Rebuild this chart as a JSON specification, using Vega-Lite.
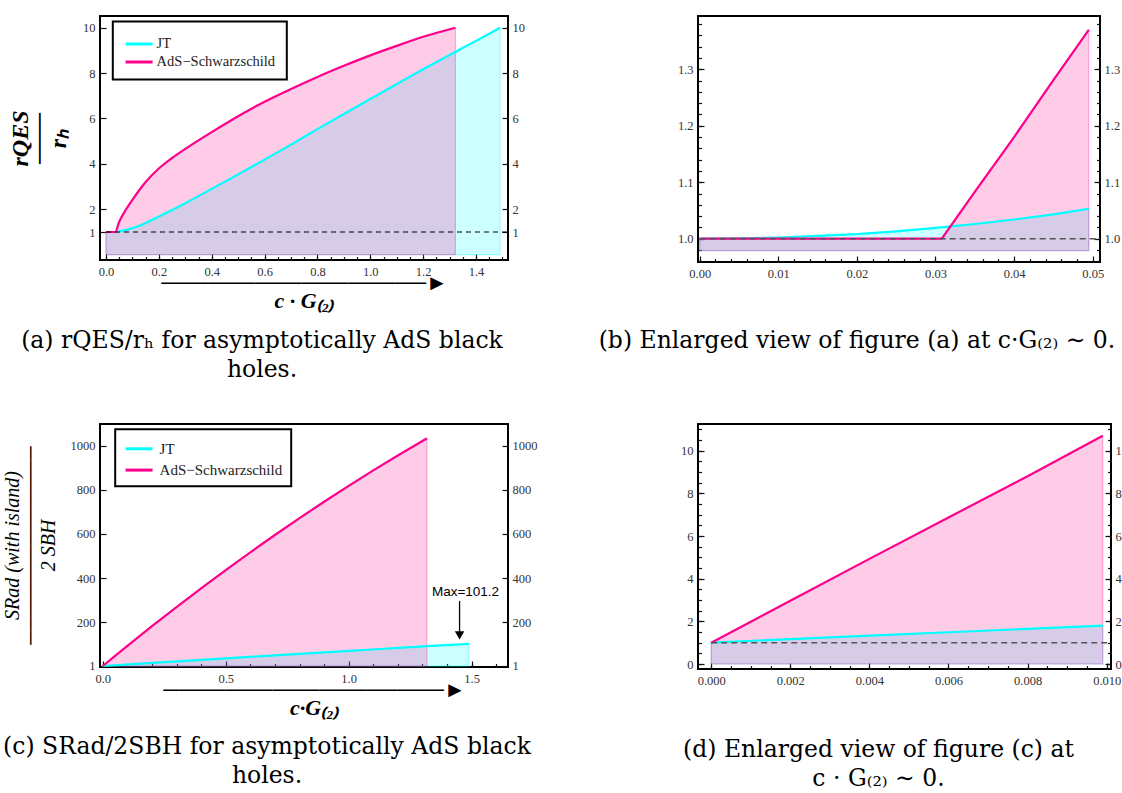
{
  "$schema": "https://vega.github.io/schema/vega-lite/v6.json",
  "background": "white",
  "padding": {"left": 1, "top": 15, "right": -6, "bottom": 0},
  "bounds": "flush",
  "columns": 2,
  "spacing": {"row": 162, "column": 190},
  "resolve": {"scale": {"color": "independent"}, "legend": {"color": "independent"}},
  "config": {
    "view": {"stroke": "black", "strokeWidth": 2},
    "axis": {"grid": false, "domain": false, "labelFont": "Liberation Serif", "labelFontSize": 12.5, "labelColor": "#333", "tickColor": "#111", "tickWidth": 1.2, "tickSize": -6, "labelPadding": 11, "zindex": 1, "labelFlush": false, "labelOverlap": false},
    "legend": {"strokeWidth": 2},
    "title": {"font": "DejaVu Serif", "fontSize": 23.5, "fontWeight": "normal", "color": "black", "lineHeight": 29, "orient": "bottom", "frame": "group", "anchor": "middle"}
  },
  "datasets": {
    "a": [
      {"s": "JT", "x": 0, "y": 1}, {"s": "JT", "x": 0.035, "y": 1.0}, {"s": "JT", "x": 0.05, "y": 1.03}, {"s": "JT", "x": 0.1, "y": 1.17}, {"s": "JT", "x": 0.15, "y": 1.4}, {"s": "JT", "x": 0.2, "y": 1.68}, {"s": "JT", "x": 0.3, "y": 2.27}, {"s": "JT", "x": 0.4, "y": 2.9}, {"s": "JT", "x": 0.5, "y": 3.54}, {"s": "JT", "x": 0.6, "y": 4.19}, {"s": "JT", "x": 0.7, "y": 4.85}, {"s": "JT", "x": 0.8, "y": 5.53}, {"s": "JT", "x": 0.9, "y": 6.2}, {"s": "JT", "x": 1.0, "y": 6.86}, {"s": "JT", "x": 1.1, "y": 7.52}, {"s": "JT", "x": 1.2, "y": 8.17}, {"s": "JT", "x": 1.3, "y": 8.8}, {"s": "JT", "x": 1.4, "y": 9.42}, {"s": "JT", "x": 1.491, "y": 10.0},
      {"s": "AdS−Schwarzschild", "x": 0, "y": 1}, {"s": "AdS−Schwarzschild", "x": 0.035, "y": 1.0}, {"s": "AdS−Schwarzschild", "x": 0.05, "y": 1.45}, {"s": "AdS−Schwarzschild", "x": 0.075, "y": 1.98}, {"s": "AdS−Schwarzschild", "x": 0.1, "y": 2.42}, {"s": "AdS−Schwarzschild", "x": 0.15, "y": 3.2}, {"s": "AdS−Schwarzschild", "x": 0.2, "y": 3.8}, {"s": "AdS−Schwarzschild", "x": 0.25, "y": 4.26}, {"s": "AdS−Schwarzschild", "x": 0.3, "y": 4.66}, {"s": "AdS−Schwarzschild", "x": 0.4, "y": 5.4}, {"s": "AdS−Schwarzschild", "x": 0.5, "y": 6.1}, {"s": "AdS−Schwarzschild", "x": 0.6, "y": 6.74}, {"s": "AdS−Schwarzschild", "x": 0.7, "y": 7.3}, {"s": "AdS−Schwarzschild", "x": 0.8, "y": 7.83}, {"s": "AdS−Schwarzschild", "x": 0.9, "y": 8.32}, {"s": "AdS−Schwarzschild", "x": 1.0, "y": 8.78}, {"s": "AdS−Schwarzschild", "x": 1.1, "y": 9.2}, {"s": "AdS−Schwarzschild", "x": 1.2, "y": 9.6}, {"s": "AdS−Schwarzschild", "x": 1.322, "y": 10.0}
    ],
    "b": [
      {"s": "JT", "x": 0, "y": 1.0}, {"s": "JT", "x": 0.005, "y": 1.0005}, {"s": "JT", "x": 0.01, "y": 1.002}, {"s": "JT", "x": 0.015, "y": 1.005}, {"s": "JT", "x": 0.02, "y": 1.008}, {"s": "JT", "x": 0.025, "y": 1.013}, {"s": "JT", "x": 0.03, "y": 1.019}, {"s": "JT", "x": 0.035, "y": 1.026}, {"s": "JT", "x": 0.04, "y": 1.034}, {"s": "JT", "x": 0.045, "y": 1.043}, {"s": "JT", "x": 0.0495, "y": 1.053},
      {"s": "AdS−Schwarzschild", "x": 0, "y": 1.0}, {"s": "AdS−Schwarzschild", "x": 0.01, "y": 1.0}, {"s": "AdS−Schwarzschild", "x": 0.02, "y": 1.0}, {"s": "AdS−Schwarzschild", "x": 0.0308, "y": 1.0}, {"s": "AdS−Schwarzschild", "x": 0.035, "y": 1.083}, {"s": "AdS−Schwarzschild", "x": 0.04, "y": 1.18}, {"s": "AdS−Schwarzschild", "x": 0.045, "y": 1.281}, {"s": "AdS−Schwarzschild", "x": 0.0495, "y": 1.37}
    ],
    "c": [
      {"s": "JT", "x": 0, "y": 1}, {"s": "JT", "x": 0.25, "y": 18.4}, {"s": "JT", "x": 0.5, "y": 35.6}, {"s": "JT", "x": 0.75, "y": 52.7}, {"s": "JT", "x": 1.0, "y": 69.5}, {"s": "JT", "x": 1.25, "y": 86.2}, {"s": "JT", "x": 1.318, "y": 90.7}, {"s": "JT", "x": 1.489, "y": 101.2},
      {"s": "AdS−Schwarzschild", "x": 0, "y": 1}, {"s": "AdS−Schwarzschild", "x": 0.05, "y": 46.9}, {"s": "AdS−Schwarzschild", "x": 0.1, "y": 92.2}, {"s": "AdS−Schwarzschild", "x": 0.2, "y": 181.4}, {"s": "AdS−Schwarzschild", "x": 0.3, "y": 268.4}, {"s": "AdS−Schwarzschild", "x": 0.4, "y": 353.3}, {"s": "AdS−Schwarzschild", "x": 0.5, "y": 436}, {"s": "AdS−Schwarzschild", "x": 0.6, "y": 516.6}, {"s": "AdS−Schwarzschild", "x": 0.7, "y": 595.1}, {"s": "AdS−Schwarzschild", "x": 0.8, "y": 671.5}, {"s": "AdS−Schwarzschild", "x": 0.9, "y": 745.7}, {"s": "AdS−Schwarzschild", "x": 1.0, "y": 817.8}, {"s": "AdS−Schwarzschild", "x": 1.1, "y": 887.8}, {"s": "AdS−Schwarzschild", "x": 1.2, "y": 955.6}, {"s": "AdS−Schwarzschild", "x": 1.318, "y": 1033}
    ],
    "d": [
      {"s": "JT", "x": 0, "y": 1}, {"s": "JT", "x": 0.002, "y": 1.17}, {"s": "JT", "x": 0.004, "y": 1.33}, {"s": "JT", "x": 0.006, "y": 1.49}, {"s": "JT", "x": 0.008, "y": 1.65}, {"s": "JT", "x": 0.0099, "y": 1.8},
      {"s": "AdS−Schwarzschild", "x": 0, "y": 1}, {"s": "AdS−Schwarzschild", "x": 0.002, "y": 2.97}, {"s": "AdS−Schwarzschild", "x": 0.004, "y": 4.93}, {"s": "AdS−Schwarzschild", "x": 0.006, "y": 6.87}, {"s": "AdS−Schwarzschild", "x": 0.008, "y": 8.8}, {"s": "AdS−Schwarzschild", "x": 0.0099, "y": 10.7}
    ],
    "note": [{"label": "Max=101.2"}]
  },
  "concat": [
    {
      "width": 408, "height": 244,
      "title": {"text": ["(a) rQES/rₕ for asymptotically AdS black", "holes."], "dx": -42, "offset": 18},
      "resolve": {"axis": {"x": "independent", "y": "independent"}},
      "layer": [
        {
          "data": {"name": "a"}, "transform": [{"filter": "datum.s == 'JT'"}],
          "mark": {"type": "area", "interpolate": "monotone", "fill": "#00FFFF", "fillOpacity": 0.2, "stroke": "#00FFFF", "strokeOpacity": 0.35, "strokeWidth": 1.2},
          "encoding": {
            "x": {"field": "x", "type": "quantitative", "scale": {"domain": [-0.0227, 1.521], "nice": false, "zero": false},
              "axis": {"orient": "bottom", "values": [0, 0.2, 0.4, 0.6, 0.8, 1, 1.2, 1.4], "format": ".1f",
                "title": ["─────────────────►", "c · G₍₂₎"], "titleFont": "Liberation Serif", "titleFontSize": 22, "titleFontWeight": "bold", "titleFontStyle": "italic", "titleLineHeight": 18, "titleX": 204, "titleY": 12, "titleAlign": "center", "titleBaseline": "top", "titleColor": "black"}},
            "y": {"field": "y", "type": "quantitative", "scale": {"domain": [-0.233, 10.515], "nice": false, "zero": false},
              "axis": {"orient": "left", "values": [1, 2, 4, 6, 8, 10],
                "title": ["rQES", "───", "rₕ"], "titleFont": "Liberation Serif", "titleFontSize": 24, "titleFontWeight": "bold", "titleFontStyle": "italic", "titleLineHeight": 19, "titleX": -68, "titleY": 122, "titleAngle": 270, "titleAlign": "center", "titleBaseline": "bottom", "titleColor": "black"}},
            "y2": {"datum": 0}
          }
        },
        {
          "data": {"name": "a"}, "transform": [{"filter": "datum.s != 'JT'"}],
          "mark": {"type": "area", "interpolate": "monotone", "fill": "#FF008C", "fillOpacity": 0.2, "stroke": "#FF008C", "strokeOpacity": 0.3, "strokeWidth": 1.2},
          "encoding": {
            "x": {"field": "x", "type": "quantitative", "scale": {"domain": [-0.0227, 1.521], "nice": false, "zero": false},
              "axis": {"orient": "bottom", "values": [0, 0.05, 0.1, 0.15, 0.2, 0.25, 0.3, 0.35, 0.4, 0.45, 0.5, 0.55, 0.6, 0.65, 0.7, 0.75, 0.8, 0.85, 0.9, 0.95, 1, 1.05, 1.1, 1.15, 1.2, 1.25, 1.3, 1.35, 1.4, 1.45, 1.5], "labels": false, "tickSize": -3.5, "title": null}},
            "y": {"field": "y", "type": "quantitative", "scale": {"domain": [-0.233, 10.515], "nice": false, "zero": false}, "axis": null},
            "y2": {"datum": 0}
          }
        },
        {
          "data": {"name": "a"},
          "mark": {"type": "line", "interpolate": "monotone", "strokeWidth": 2.2},
          "encoding": {
            "x": {"field": "x", "type": "quantitative", "axis": null},
            "y": {"field": "y", "type": "quantitative", "axis": {"orient": "right", "values": [1, 2, 4, 6, 8, 10], "labelPadding": 10, "title": null}},
            "color": {"field": "s", "type": "nominal", "scale": {"domain": ["JT", "AdS−Schwarzschild"], "range": ["#00FFFF", "#FF008C"]},
              "legend": {"orient": "none", "legendX": 12.8, "legendY": 5.5, "title": null, "symbolType": "M-1.35,0H1.35", "symbolStrokeWidth": 3, "symbolSize": 400, "symbolOffset": 3.8, "labelFont": "Liberation Serif", "labelFontSize": 14.5, "labelColor": "#222", "labelOffset": 6, "strokeColor": "black", "fillColor": "white", "padding": 11, "rowPadding": 0}}
          }
        },
        {
          "data": {"values": [{}]},
          "mark": {"type": "rule", "strokeDash": [5, 4], "color": "black", "strokeWidth": 1.2},
          "encoding": {
            "x": {"datum": 0, "type": "quantitative", "axis": null},
            "x2": {"datum": 1.521},
            "y": {"datum": 1, "type": "quantitative", "axis": null}
          }
        }
      ]
    },
    {
      "width": 402, "height": 246,
      "title": {"text": "(b) Enlarged view of figure (a) at c·G₍₂₎ ∼ 0.", "dx": -42, "offset": 49},
      "resolve": {"axis": {"x": "independent", "y": "independent"}},
      "layer": [
        {
          "data": {"name": "b"}, "transform": [{"filter": "datum.s == 'JT'"}],
          "mark": {"type": "area", "fill": "#00FFFF", "fillOpacity": 0.2, "stroke": "#00FFFF", "strokeOpacity": 0.35, "strokeWidth": 1.2},
          "encoding": {
            "x": {"field": "x", "type": "quantitative", "scale": {"domain": [-0.000216, 0.05093], "nice": false, "zero": false},
              "axis": {"orient": "bottom", "values": [0, 0.01, 0.02, 0.03, 0.04, 0.05], "format": ".2f", "title": null}},
            "y": {"field": "y", "type": "quantitative", "scale": {"domain": [0.9587, 1.3944], "nice": false, "zero": false},
              "axis": {"orient": "left", "values": [1, 1.1, 1.2, 1.3], "format": ".1f", "title": null}},
            "y2": {"datum": 0.979}
          }
        },
        {
          "data": {"name": "b"}, "transform": [{"filter": "datum.s != 'JT'"}],
          "mark": {"type": "area", "fill": "#FF008C", "fillOpacity": 0.2, "stroke": "#FF008C", "strokeOpacity": 0.3, "strokeWidth": 1.2},
          "encoding": {
            "x": {"field": "x", "type": "quantitative", "scale": {"domain": [-0.000216, 0.05093], "nice": false, "zero": false},
              "axis": {"orient": "bottom", "values": [0, 0.002, 0.004, 0.006, 0.008, 0.01, 0.012, 0.014, 0.016, 0.018, 0.02, 0.022, 0.024, 0.026, 0.028, 0.03, 0.032, 0.034, 0.036, 0.038, 0.04, 0.042, 0.044, 0.046, 0.048, 0.05], "labels": false, "tickSize": -3.5, "title": null}},
            "y": {"field": "y", "type": "quantitative", "scale": {"domain": [0.9587, 1.3944], "nice": false, "zero": false},
              "axis": {"orient": "left", "values": [0.96, 0.98, 1, 1.02, 1.04, 1.06, 1.08, 1.1, 1.12, 1.14, 1.16, 1.18, 1.2, 1.22, 1.24, 1.26, 1.28, 1.3, 1.32, 1.34, 1.36, 1.38], "labels": false, "tickSize": -3.5, "title": null}},
            "y2": {"datum": 0.979}
          }
        },
        {
          "data": {"name": "b"},
          "mark": {"type": "line", "strokeWidth": 2.2},
          "encoding": {
            "x": {"field": "x", "type": "quantitative", "axis": null},
            "y": {"field": "y", "type": "quantitative", "axis": {"orient": "right", "values": [1, 1.1, 1.2, 1.3], "format": ".1f", "labelPadding": 10, "title": null}},
            "color": {"field": "s", "type": "nominal", "scale": {"domain": ["JT", "AdS−Schwarzschild"], "range": ["#00FFFF", "#FF008C"]}, "legend": null}
          }
        },
        {
          "data": {"values": [{}]},
          "mark": {"type": "rule", "strokeDash": [6, 4], "color": "#555", "strokeWidth": 1.5},
          "encoding": {
            "x": {"datum": 0, "type": "quantitative", "axis": null},
            "x2": {"datum": 0.05093},
            "y": {"datum": 1, "type": "quantitative",
              "axis": {"orient": "right", "values": [0.96, 0.98, 1, 1.02, 1.04, 1.06, 1.08, 1.1, 1.12, 1.14, 1.16, 1.18, 1.2, 1.22, 1.24, 1.26, 1.28, 1.3, 1.32, 1.34, 1.36, 1.38], "labels": false, "tickSize": -3.5, "title": null}}
          }
        }
      ]
    },
    {
      "width": 408, "height": 243,
      "title": {"text": ["(c) SRad/2SBH for asymptotically AdS black", "holes."], "dx": -37, "offset": 17},
      "resolve": {"axis": {"x": "independent", "y": "independent"}},
      "layer": [
        {
          "data": {"name": "c"}, "transform": [{"filter": "datum.s == 'JT'"}],
          "mark": {"type": "area", "interpolate": "monotone", "fill": "#00FFFF", "fillOpacity": 0.2, "stroke": "#00FFFF", "strokeOpacity": 0.35, "strokeWidth": 1.2},
          "encoding": {
            "x": {"field": "x", "type": "quantitative", "scale": {"domain": [-0.0114, 1.648], "nice": false, "zero": false},
              "axis": {"orient": "bottom", "values": [0, 0.5, 1, 1.5], "format": ".1f",
                "title": ["──────────────────►", "c·G₍₂₎"], "titleFont": "Liberation Serif", "titleFontSize": 22, "titleFontWeight": "bold", "titleFontStyle": "italic", "titleLineHeight": 18, "titleX": 214, "titleY": 12, "titleAlign": "center", "titleBaseline": "top", "titleColor": "black"}},
            "y": {"field": "y", "type": "quantitative", "scale": {"domain": [-3.6, 1098.4], "nice": false, "zero": false},
              "axis": {"orient": "left", "values": [1, 200, 400, 600, 800, 1000], "format": "d",
                "title": ["SRad (with island)", "──────────────", "2 SBH"], "titleFont": "Liberation Serif", "titleFontSize": 20, "titleFontWeight": "normal", "titleFontStyle": "italic", "titleLineHeight": 18, "titleX": -78, "titleY": 121, "titleAngle": 270, "titleAlign": "center", "titleBaseline": "bottom", "titleColor": "black"}},
            "y2": {"datum": 0}
          }
        },
        {
          "data": {"name": "c"}, "transform": [{"filter": "datum.s != 'JT'"}],
          "mark": {"type": "area", "interpolate": "monotone", "fill": "#FF008C", "fillOpacity": 0.2, "stroke": "#FF008C", "strokeOpacity": 0.3, "strokeWidth": 1.2},
          "encoding": {
            "x": {"field": "x", "type": "quantitative", "scale": {"domain": [-0.0114, 1.648], "nice": false, "zero": false},
              "axis": {"orient": "bottom", "values": [0, 0.1, 0.2, 0.3, 0.4, 0.5, 0.6, 0.7, 0.8, 0.9, 1, 1.1, 1.2, 1.3, 1.4, 1.5, 1.6], "labels": false, "tickSize": -3.5, "title": null}},
            "y": {"field": "y", "type": "quantitative", "scale": {"domain": [-3.6, 1098.4], "nice": false, "zero": false}, "axis": null},
            "y2": {"datum": 0}
          }
        },
        {
          "data": {"name": "c"},
          "mark": {"type": "line", "interpolate": "monotone", "strokeWidth": 2.2},
          "encoding": {
            "x": {"field": "x", "type": "quantitative", "axis": null},
            "y": {"field": "y", "type": "quantitative", "axis": {"orient": "right", "values": [1, 200, 400, 600, 800, 1000], "format": "d", "labelPadding": 10, "title": null}},
            "color": {"field": "s", "type": "nominal", "scale": {"domain": ["JT", "AdS−Schwarzschild"], "range": ["#00FFFF", "#FF008C"]},
              "legend": {"orient": "none", "legendX": 15.2, "legendY": 5.3, "title": null, "symbolType": "M-1.35,0H1.35", "symbolStrokeWidth": 3, "symbolSize": 400, "symbolOffset": 4.4, "labelFont": "Liberation Serif", "labelFontSize": 15, "labelColor": "#222", "labelOffset": 9, "strokeColor": "black", "fillColor": "white", "padding": 8, "rowPadding": 1.3}}
          }
        },
        {
          "data": {"name": "note"},
          "mark": {"type": "text", "font": "Liberation Sans", "fontSize": 13.5, "color": "black"},
          "encoding": {
            "x": {"datum": 1.475, "type": "quantitative", "axis": null},
            "y": {"datum": 338, "type": "quantitative", "axis": null},
            "text": {"field": "label"}
          }
        },
        {
          "data": {"values": [{}]},
          "mark": {"type": "rule", "color": "black", "strokeWidth": 1.3},
          "encoding": {
            "x": {"datum": 1.451, "type": "quantitative", "axis": null},
            "y": {"datum": 296, "type": "quantitative", "axis": null},
            "y2": {"datum": 145}
          }
        },
        {
          "data": {"values": [{}]},
          "mark": {"type": "point", "shape": "triangle-down", "filled": true, "color": "black", "opacity": 1, "size": 90},
          "encoding": {
            "x": {"datum": 1.451, "type": "quantitative", "axis": null},
            "y": {"datum": 140, "type": "quantitative", "axis": null}
          }
        }
      ]
    },
    {
      "width": 413, "height": 245,
      "title": {"text": ["(d) Enlarged view of figure (c) at", "c · G₍₂₎ ∼ 0."], "dx": -26, "offset": 51},
      "resolve": {"axis": {"x": "independent", "y": "independent"}},
      "layer": [
        {
          "data": {"name": "d"}, "transform": [{"filter": "datum.s == 'JT'"}],
          "mark": {"type": "area", "fill": "#00FFFF", "fillOpacity": 0.2, "stroke": "#00FFFF", "strokeOpacity": 0.35, "strokeWidth": 1.2},
          "encoding": {
            "x": {"field": "x", "type": "quantitative", "scale": {"domain": [-0.000334, 0.010109], "nice": false, "zero": false},
              "axis": {"orient": "bottom", "values": [0, 0.002, 0.004, 0.006, 0.008, 0.01], "format": ".3f", "title": null}},
            "y": {"field": "y", "type": "quantitative", "scale": {"domain": [-0.234, 11.252], "nice": false, "zero": false},
              "axis": {"orient": "left", "values": [0, 2, 4, 6, 8, 10], "title": null}},
            "y2": {"datum": 0}
          }
        },
        {
          "data": {"name": "d"}, "transform": [{"filter": "datum.s != 'JT'"}],
          "mark": {"type": "area", "fill": "#FF008C", "fillOpacity": 0.2, "stroke": "#FF008C", "strokeOpacity": 0.3, "strokeWidth": 1.2},
          "encoding": {
            "x": {"field": "x", "type": "quantitative", "scale": {"domain": [-0.000334, 0.010109], "nice": false, "zero": false},
              "axis": {"orient": "bottom", "values": [0, 0.0005, 0.001, 0.0015, 0.002, 0.0025, 0.003, 0.0035, 0.004, 0.0045, 0.005, 0.0055, 0.006, 0.0065, 0.007, 0.0075, 0.008, 0.0085, 0.009, 0.0095, 0.01], "labels": false, "tickSize": -3.5, "title": null}},
            "y": {"field": "y", "type": "quantitative", "scale": {"domain": [-0.234, 11.252], "nice": false, "zero": false},
              "axis": {"orient": "left", "values": [0, 0.5, 1, 1.5, 2, 2.5, 3, 3.5, 4, 4.5, 5, 5.5, 6, 6.5, 7, 7.5, 8, 8.5, 9, 9.5, 10, 10.5, 11], "labels": false, "tickSize": -3.5, "title": null}},
            "y2": {"datum": 0}
          }
        },
        {
          "data": {"name": "d"},
          "mark": {"type": "line", "strokeWidth": 2.2},
          "encoding": {
            "x": {"field": "x", "type": "quantitative", "axis": null},
            "y": {"field": "y", "type": "quantitative", "axis": {"orient": "right", "values": [0, 2, 4, 6, 8, 10], "labelPadding": 10, "title": null}},
            "color": {"field": "s", "type": "nominal", "scale": {"domain": ["JT", "AdS−Schwarzschild"], "range": ["#00FFFF", "#FF008C"]}, "legend": null}
          }
        },
        {
          "data": {"values": [{}]},
          "mark": {"type": "rule", "strokeDash": [6, 4], "color": "#555", "strokeWidth": 1.5},
          "encoding": {
            "x": {"datum": 0, "type": "quantitative", "axis": null},
            "x2": {"datum": 0.010109},
            "y": {"datum": 1, "type": "quantitative",
              "axis": {"orient": "right", "values": [0, 0.5, 1, 1.5, 2, 2.5, 3, 3.5, 4, 4.5, 5, 5.5, 6, 6.5, 7, 7.5, 8, 8.5, 9, 9.5, 10, 10.5, 11], "labels": false, "tickSize": -3.5, "title": null}}
          }
        }
      ]
    }
  ]
}
